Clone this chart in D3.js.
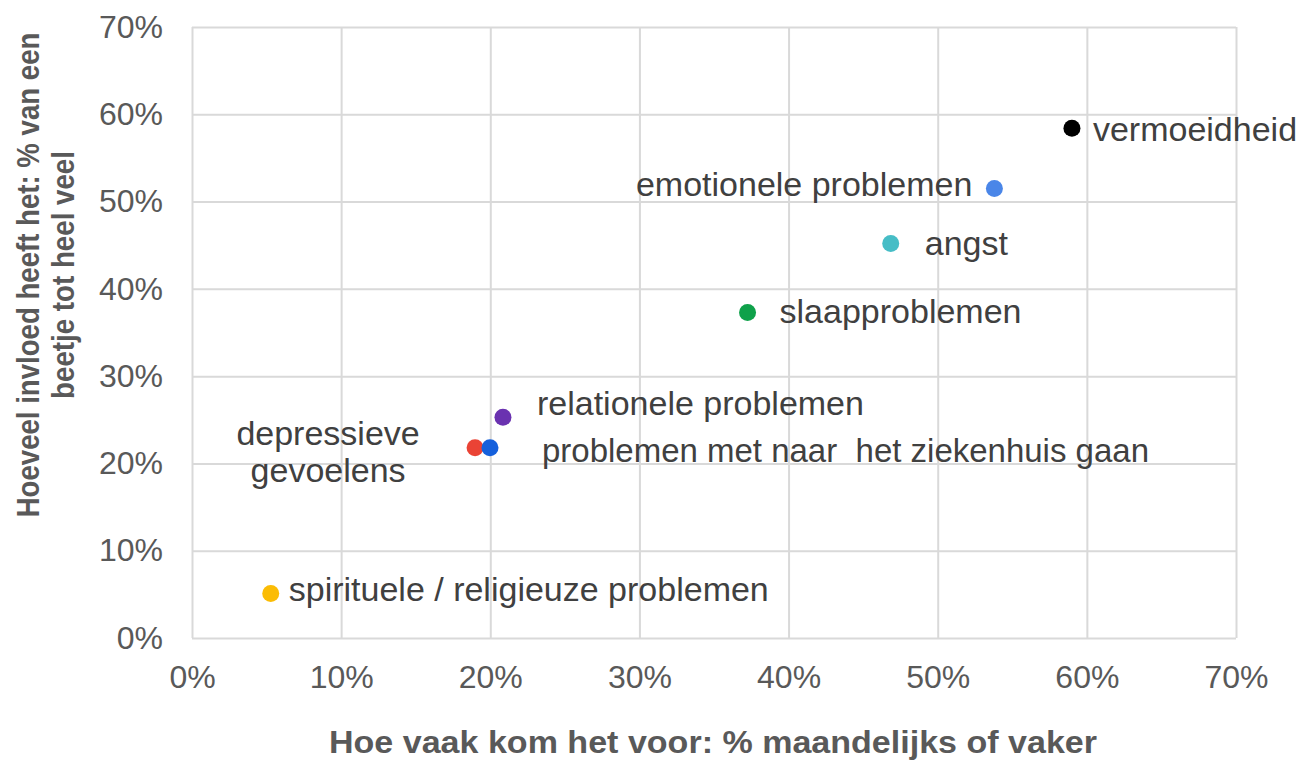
<!DOCTYPE html>
<html>
<head>
<meta charset="utf-8">
<script src="https://cdn.jsdelivr.net/npm/d3@7"></script>
<style>
  body { margin: 0; background: #fff; }
  text { font-family: "Liberation Sans", Arial, sans-serif; }
</style>
</head>
<body>
<div id="chart"></div>
<script>
// data (percentages)
const items = ['vermoeidheid', 'emotionele problemen', 'angst', 'slaapproblemen',
  'relationele problemen', 'depressieve gevoelens',
  'problemen met naar  het ziekenhuis gaan', 'spirituele / religieuze problemen']
const frequency = [59.0, 53.8, 46.85, 37.25, 20.85, 18.98, 19.98, 5.28]
const impact = [58.4, 51.5, 45.2, 37.3, 25.3, 21.8, 21.8, 5.1]
const dotColors = ['#000000', '#4a86e8', '#46bdc6', '#0fa14a', '#6a32b0', '#ea4335', '#1560dc', '#fbbc04']
const tickValues = [0, 10, 20, 30, 40, 50, 60, 70]
const tickLabels = ['0%', '10%', '20%', '30%', '40%', '50%', '60%', '70%']
const xTitle = 'Hoe vaak kom het voor: % maandelijks of vaker'
const yTitle = ['Hoeveel invloed heeft het: % van een', 'beetje tot heel veel']

// where each label sits relative to its dot
const placement = [
  {dx: 21, dy: 13, anchor: 'start'},
  {dx: -22, dy: 8, anchor: 'end'},
  {dx: 34, dy: 12, anchor: 'start'},
  {dx: 32, dy: 11, anchor: 'start'},
  {dx: 34, dy: -2, anchor: 'start'},
  {dx: -147, dy: -3, anchor: 'middle', lines: ['depressieve', 'gevoelens']},
  {dx: 52, dy: 14, anchor: 'start', fit: 607},
  {dx: 18, dy: 8, anchor: 'start'}
]

const W = 1303, H = 760
const margin = {top: 27, right: 67, bottom: 122, left: 192}
const width = W - margin.left - margin.right
const height = H - margin.top - margin.bottom

const svg = d3.select('#chart').append('svg')
  .attr('width', W)
  .attr('height', H)
  .style('display', 'block')

svg.append('rect').attr('width', W).attr('height', H).attr('fill', '#fff')

const g = svg.append('g')
  .attr('transform', 'translate(' + margin.left + ',' + margin.top + ')')

const x = d3.scaleLinear().domain([0, 70]).range([0, width])
const y = d3.scaleLinear().domain([0, 70]).range([height, 0])

const xAxis = d3.axisBottom(x)
  .tickValues(tickValues)
  .tickFormat((d, i) => tickLabels[i])
  .tickSize(-height)
  .tickPadding(27)

const yAxis = d3.axisLeft(y)
  .tickValues(tickValues)
  .tickFormat((d, i) => tickLabels[i])
  .tickSize(-width)
  .tickPadding(29)

g.append('g')
  .attr('class', 'x axis')
  .attr('transform', 'translate(0,' + height + ')')
  .call(xAxis)

g.append('g')
  .attr('class', 'y axis')
  .call(yAxis)

g.selectAll('.axis .domain').remove()
g.selectAll('.axis line')
  .attr('stroke', '#d9d9d9')
  .attr('stroke-width', 2)
g.selectAll('.axis text')
  .attr('fill', '#595959')
  .style('font-size', '32px')

// axis titles
svg.append('text')
  .attr('x', margin.left + width / 2 - 1)
  .attr('y', 753)
  .attr('text-anchor', 'middle')
  .attr('textLength', 768)
  .attr('lengthAdjust', 'spacingAndGlyphs')
  .attr('fill', '#595959')
  .style('font-size', '31px')
  .style('font-weight', 'bold')
  .text(xTitle)

// y title: condensed by a horizontal scale so it fits the reference length
const yTitleLen = [485, 248]
const yt = svg.append('g')
  .attr('transform', 'translate(0,275) rotate(-90)')
yt.selectAll('text')
  .data(yTitle)
  .enter()
  .append('text')
  .attr('x', 0)
  .attr('y', (d, i) => i === 0 ? 39 : 74)
  .attr('text-anchor', 'middle')
  .attr('fill', '#595959')
  .style('font-size', '31px')
  .style('font-weight', 'bold')
  .text(d => d)
  .each(function(d, i) {
    const s = yTitleLen[i] / this.getComputedTextLength()
    d3.select(this).attr('transform', 'scale(' + s + ',1)')
  })

// dots
g.selectAll('.dot')
  .data(items)
  .enter().append('circle')
  .attr('class', 'dot')
  .attr('cx', (d, i) => x(frequency[i]))
  .attr('cy', (d, i) => y(impact[i]))
  .attr('r', 8.5)
  .attr('fill', (d, i) => dotColors[i])

// labels
const labels = g.selectAll('.label')
  .data(items)
  .enter().append('text')
  .attr('class', 'label')
  .attr('x', (d, i) => x(frequency[i]) + placement[i].dx)
  .attr('y', (d, i) => y(impact[i]) + placement[i].dy)
  .attr('text-anchor', (d, i) => placement[i].anchor)
  .attr('fill', '#404040')
  .style('font-size', '34px')
  .style('white-space', 'pre')

labels.each(function(d, i) {
  const t = d3.select(this)
  const p = placement[i]
  if (p.lines) {
    t.selectAll('tspan')
      .data(p.lines)
      .enter().append('tspan')
      .attr('x', x(frequency[i]) + p.dx)
      .attr('dy', (l, j) => j === 0 ? 0 : 37)
      .text(l => l)
  } else {
    t.text(d)
    if (p.fit) t.attr('textLength', p.fit).attr('lengthAdjust', 'spacingAndGlyphs')
  }
})
</script>
</body>
</html>
